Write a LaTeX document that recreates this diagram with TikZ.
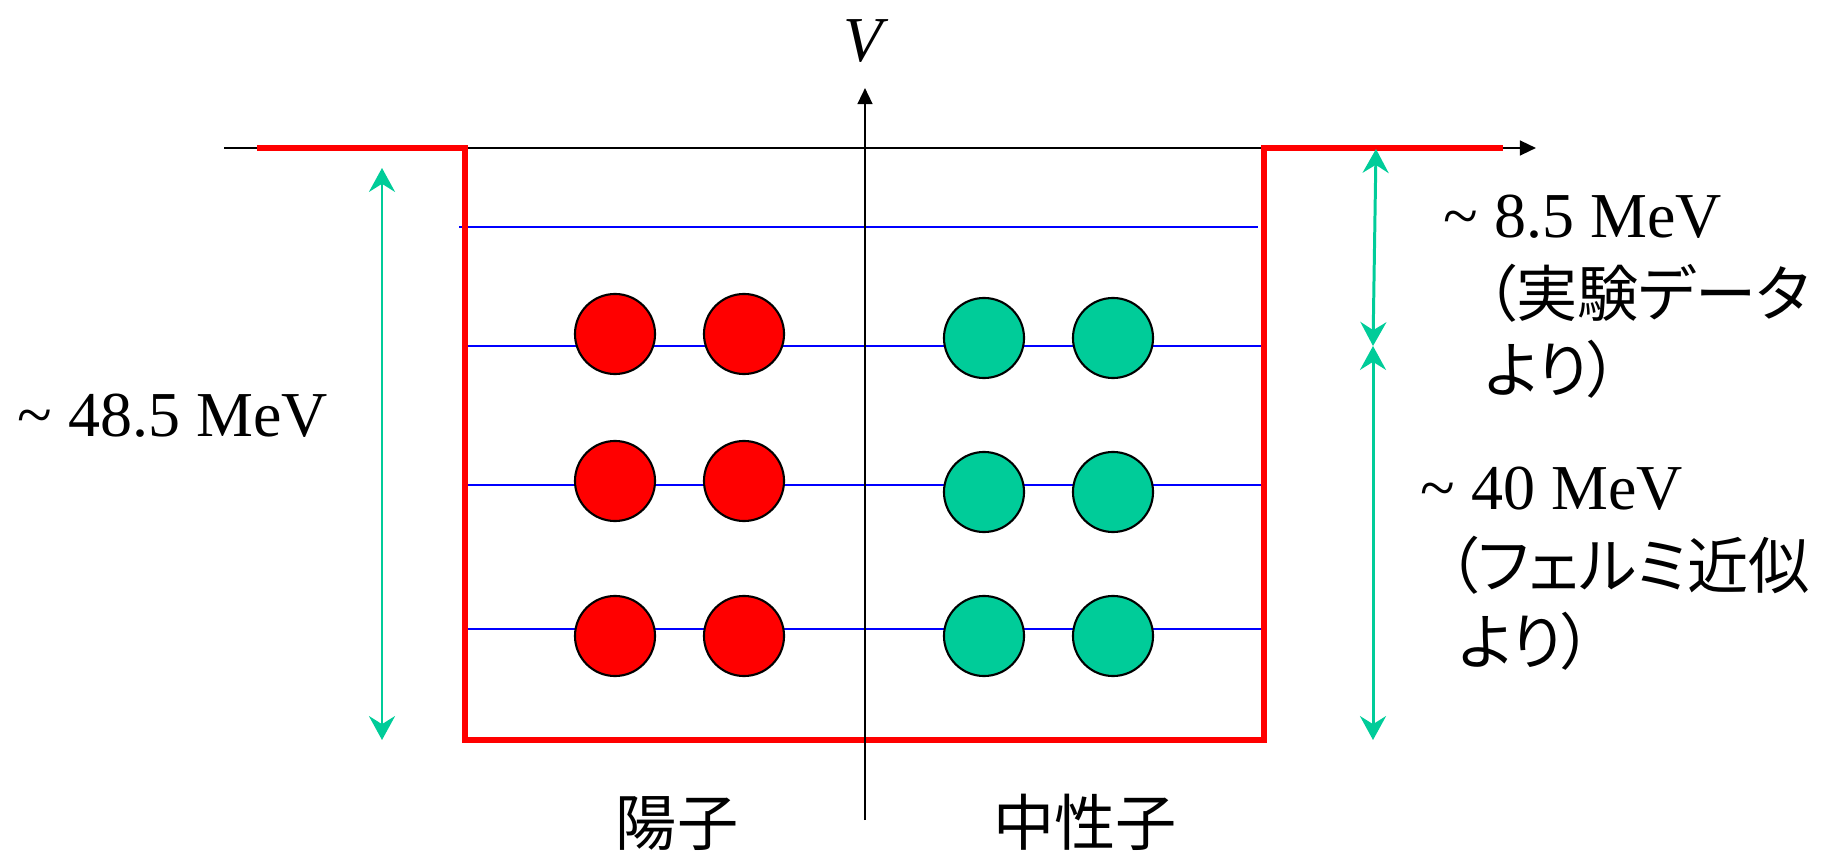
\documentclass[tikz,border=0pt]{standalone}
\usepackage{fontspec}
\setmainfont{Liberation Serif}
\newfontfamily\jpfont{Noto Sans CJK JP}[RawFeature=+palt]
\usepackage{xcolor}
\definecolor{wellred}{HTML}{FF0000}
\definecolor{nucgreen}{HTML}{00CC99}
\definecolor{levelblue}{HTML}{0000FF}
\usepackage{tikz}
\usetikzlibrary{arrows.meta}
\tikzset{
  axis/.style   ={-{Triangle[length=4.6pt,width=4.2pt]}, line width=0.7pt},
  wall/.style   ={draw=wellred, line width=1.5pt},
  level/.style  ={draw=levelblue, line width=0.55pt},
  gap/.style    ={{Stealth[length=6.8pt,width=7.4pt,inset=2.3pt]}-{Stealth[length=6.8pt,width=7.4pt,inset=2.3pt]},
                  draw=nucgreen, line width=0.85pt},
  nucl/.style   ={circle, draw=black, line width=0.6pt, minimum size=0.8cm, inner sep=0pt},
  proton/.style ={nucl, fill=wellred},
  neutron/.style={nucl, fill=nucgreen},
  lbl/.style    ={inner sep=0pt, font=\fontsize{18.2}{22}\selectfont},
  jp/.style     ={inner sep=0pt, font=\fontsize{17.4}{21}\selectfont\jpfont},
}

\begin{document}
\begin{tikzpicture}[x=0.01cm, y=-0.01cm]
  \useasboundingbox (0,0) rectangle (1845,864);
  % axes and well corners
  \coordinate (xS) at (224,148);
  \coordinate (xE) at (1536,148);
  \coordinate (yS) at (865,820);
  \coordinate (yE) at (865,88);
  \coordinate (wTL) at (257,148);
  \coordinate (wL) at (465,148);
  \coordinate (wBL) at (465,740);
  \coordinate (wBR) at (1264,740);
  \coordinate (wR) at (1264,148);
  \coordinate (wTR) at (1503,148);
  \draw[axis] (xS) -- (xE);
  % levels
  \coordinate (l0a) at (459,227);  \coordinate (l0b) at (1258,227);
  \coordinate (l1a) at (465,346);  \coordinate (l1b) at (1264,346);
  \coordinate (l2a) at (465,485);  \coordinate (l2b) at (1264,485);
  \coordinate (l3a) at (465,629);  \coordinate (l3b) at (1264,629);
  \draw[level] (l0a) -- (l0b);
  \draw[level] (l1a) -- (l1b);
  \draw[level] (l2a) -- (l2b);
  \draw[level] (l3a) -- (l3b);
  \draw[wall] (wTL) -- (wL) -- (wBL) -- (wBR) -- (wR) -- (wTR);
  \draw[axis] (yS) -- (yE);
  \node[lbl, anchor=base] (vlab) at (866,62) {\textit{V}};
  % nucleons
  \node[proton] (p1a) at (615,334) {};
  \node[proton] (p1b) at (744,334) {};
  \node[proton] (p2a) at (615,481) {};
  \node[proton] (p2b) at (744,481) {};
  \node[proton] (p3a) at (615,636) {};
  \node[proton] (p3b) at (744,636) {};
  \node[neutron] (n1a) at (984,338) {};
  \node[neutron] (n1b) at (1113,338) {};
  \node[neutron] (n2a) at (984,492) {};
  \node[neutron] (n2b) at (1113,492) {};
  \node[neutron] (n3a) at (984,636) {};
  \node[neutron] (n3b) at (1113,636) {};
  % depth arrows
  \coordinate (gL1) at (382,168);
  \coordinate (gL2) at (382,740);
  \coordinate (gR1) at (1376,149);
  \coordinate (gR2) at (1373,346);
  \coordinate (gR3) at (1373,740);
  \draw[gap] (gL1) -- (gL2);
  \draw[gap] (gR1) -- (gR2);
  \draw[gap] (gR2) -- (gR3);
  % labels
  \node[lbl, anchor=base west] (total) at (17,437) {\textasciitilde{} 48.5 MeV};
  \node[lbl, anchor=base west] (sep) at (1443,238) {\textasciitilde{} 8.5 MeV};
  \node[jp, anchor=base west] (sepA) at (1485,317) {（実験データ};
  \node[jp, anchor=base west] (sepB) at (1484,393) {より）};
  \node[jp, anchor=base west] (fermiA) at (1447,588) {（フェルミ近似};
  \node[lbl, anchor=base west] (fermi) at (1420,510) {\textasciitilde{} 40 MeV};
  \node[jp, anchor=base west] (fermiB) at (1458,664) {より）};
  \node[jp, anchor=base] (prot) at (677,845) {陽子};
  \node[jp, anchor=base] (neut) at (1085,845) {中性子};
\end{tikzpicture}
\end{document}
